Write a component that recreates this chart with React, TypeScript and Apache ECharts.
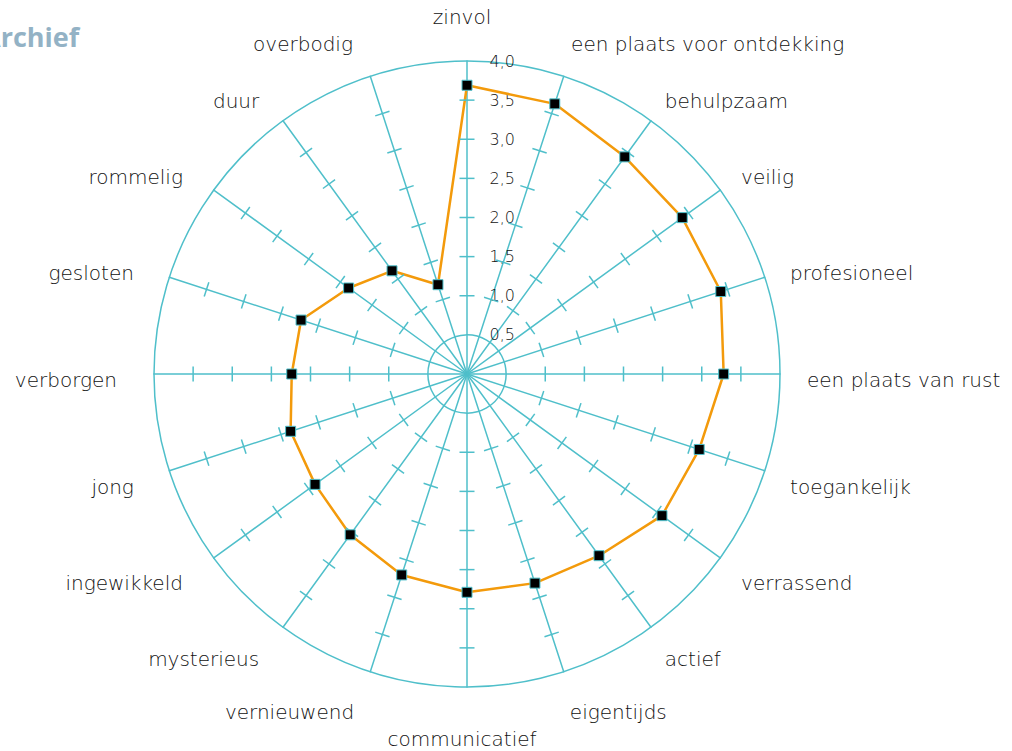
import React, { useEffect, useRef } from "react";
import * as echarts from "echarts";

// Indicators in clockwise order starting from the top
const categories = [
  "zinvol",
  "een plaats voor ontdekking",
  "behulpzaam",
  "veilig",
  "profesioneel",
  "een plaats van rust",
  "toegankelijk",
  "verrassend",
  "actief",
  "eigentijds",
  "communicatief",
  "vernieuwend",
  "mysterieus",
  "ingewikkeld",
  "jong",
  "verborgen",
  "gesloten",
  "rommelig",
  "duur",
  "overbodig",
];
const values = [
  3.69, 3.63, 3.43, 3.4, 3.41, 3.28, 3.12, 3.08, 2.87, 2.81, 2.79, 2.7, 2.54,
  2.4, 2.37, 2.24, 2.23, 1.87, 1.63, 1.2,
];
const axisMax = 4;
const axisSplits = 8;
const tickValues = [1.0, 1.5, 2.0, 2.5, 3.0, 3.5];
const titleText = "Archief";
// names close to the vertical direction, placed a bit further out
const nearTop = ["zinvol", "een plaats voor ontdekking", "overbodig"];
const nearBottom = ["communicatief", "eigentijds", "vernieuwend"];

// ECharts radar places indicators counter-clockwise; reorder to be clockwise
const ccw = <T,>(arr: T[]): T[] => [arr[0], ...arr.slice(1).reverse()];

const TEAL = "#4fbfca";
const FONT = "'DejaVu Sans', sans-serif";

export default function App() {
  const ref = useRef<HTMLDivElement>(null);
  useEffect(() => {
    if (!ref.current) return;
    const chart = echarts.init(ref.current, undefined, { renderer: "svg" });
    const cats = ccw(categories);
    const vals = ccw(values);
    const n = categories.length;
    const ringColors = Array.from({ length: axisSplits + 1 }, (_, i) =>
      i === 1 || i === axisSplits ? TEAL : "rgba(0,0,0,0)"
    );
    const nameStyle = {
      show: true,
      color: "#111",
      fontSize: 20,
      fontWeight: 200,
      fontFamily: FONT,
    };
    const hidden = {
      axisLine: { show: false },
      axisTick: { show: false },
      axisLabel: { show: false },
      splitLine: { show: false },
      splitArea: { show: false },
    };
    const nameRadar = (pick: (c: string) => boolean, gap: number) => ({
      center: [462, 380],
      radius: 313,
      startAngle: 90,
      splitNumber: 1,
      shape: "circle",
      indicator: cats.map((c) => ({
        name: pick(c) ? c : "",
        min: 0,
        max: axisMax,
      })),
      nameGap: gap,
      axisName: nameStyle,
      ...hidden,
    });
    const tickData: any[] = [];
    categories.forEach((c, i) => {
      tickValues.forEach((t) => {
        tickData.push({ value: [t, c], symbolRotate: (-360 * i) / n });
      });
    });
    chart.setOption({
      animation: false,
      graphic: [
        {
          type: "text",
          left: -18,
          top: 23,
          style: {
            text: titleText,
            fill: "#93b2c5",
            font: "bold 27px 'Open Sans', sans-serif",
          },
        },
      ],
      polar: { center: [467, 374], radius: 313 },
      angleAxis: {
        type: "category",
        data: categories,
        startAngle: 90,
        clockwise: true,
        boundaryGap: false,
        show: false,
      },
      radiusAxis: { type: "value", min: 0, max: axisMax, show: false },
      radar: [
        {
          // spokes, rings, value labels
          center: [467, 374],
          radius: 313,
          startAngle: 90,
          splitNumber: axisSplits,
          shape: "circle",
          indicator: cats.map((c, i) => ({
            name: "",
            min: 0,
            max: axisMax,
            axisLabel: { show: i === 0 },
          })),
          axisName: { show: false },
          axisLine: { show: true, lineStyle: { color: TEAL, width: 1.5 } },
          axisTick: { show: false },
          axisLabel: {
            show: false,
            color: "#111",
            fontSize: 16,
            fontWeight: 200,
            fontFamily: FONT,
            margin: -48,
            formatter: (v: number) =>
              v === 0 ? "" : v.toFixed(1).replace(".", ","),
          },
          splitLine: {
            show: true,
            lineStyle: { color: ringColors, width: 1.5 },
          },
          splitArea: { show: false },
        },
        nameRadar(
          (c) => !nearTop.includes(c) && !nearBottom.includes(c),
          32
        ),
        nameRadar((c) => nearTop.includes(c), 40),
        nameRadar((c) => nearBottom.includes(c), 36),
      ],
      series: [
        {
          type: "scatter",
          coordinateSystem: "polar",
          symbol: "rect",
          symbolSize: [15, 1.5],
          itemStyle: { color: TEAL, opacity: 1 },
          silent: true,
          data: tickData,
        },
        {
          type: "radar",
          radarIndex: 0,
          symbol: "rect",
          symbolSize: 10,
          lineStyle: { color: "#f39a0b", width: 2.5 },
          itemStyle: { color: "#000", borderColor: TEAL, borderWidth: 1 },
          data: [{ value: vals, name: "score" }],
        },
      ],
    });
    return () => chart.dispose();
  }, []);
  return (
    <div
      ref={ref}
      style={{
        position: "fixed",
        left: 0,
        top: 0,
        width: 1012,
        height: 751,
        background: "#fff",
      }}
    />
  );
}
